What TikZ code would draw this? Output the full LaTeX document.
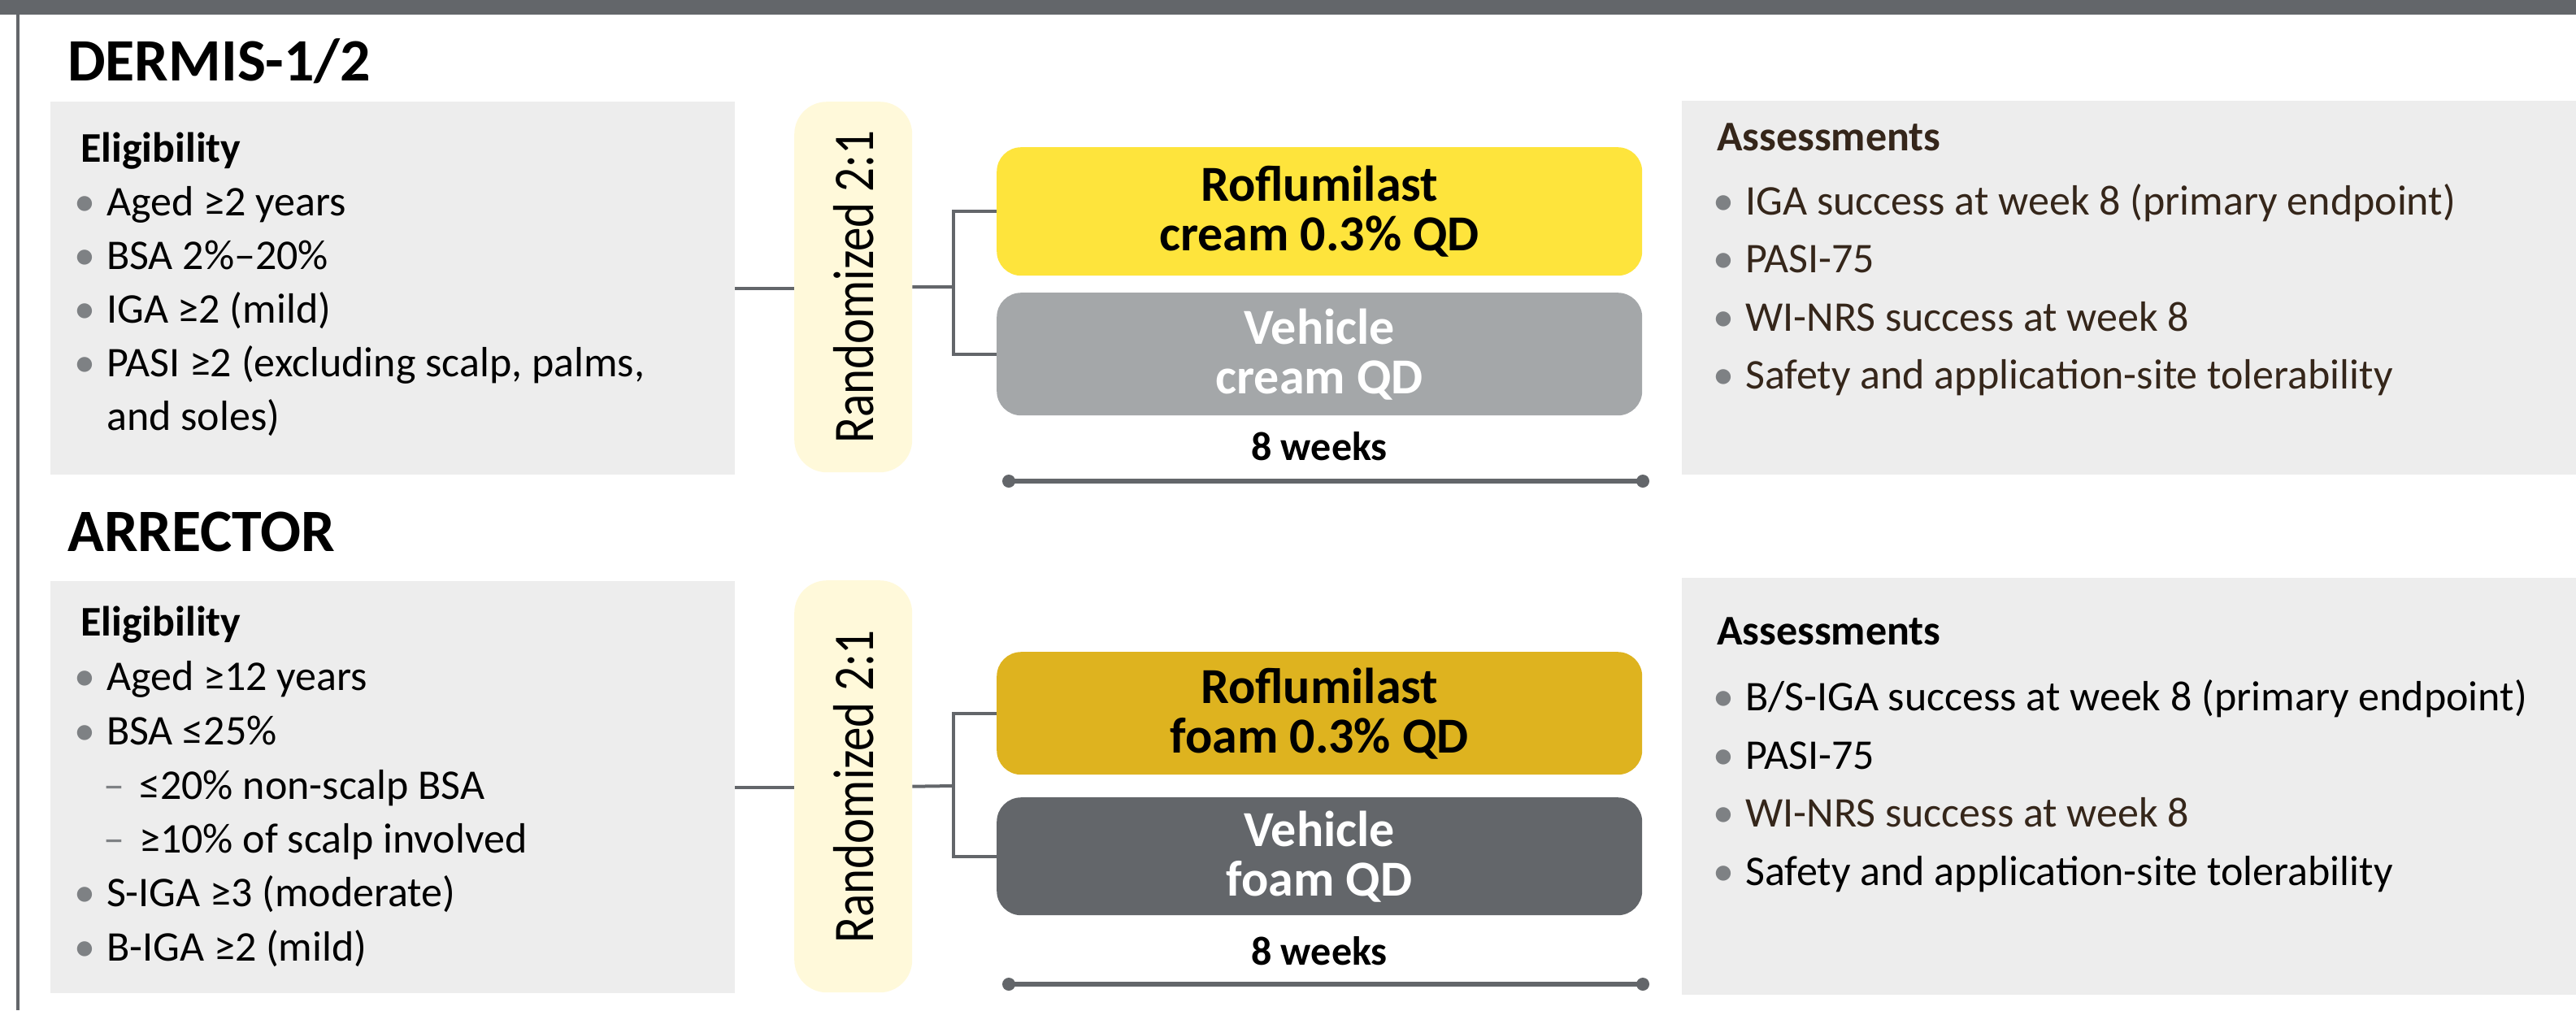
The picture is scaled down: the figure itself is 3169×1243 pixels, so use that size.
\documentclass[tikz,border=0pt]{standalone}
\usepackage{fontspec}
\setmainfont{Carlito}
\usetikzlibrary{calc}
\definecolor{bargray}{HTML}{63666A}
\definecolor{panel}{HTML}{EDEDED}
\definecolor{randbg}{HTML}{FFF9DA}
\definecolor{creamY}{HTML}{FEE43C}
\definecolor{foamY}{HTML}{DEB31F}
\definecolor{vehcream}{HTML}{A4A7A9}
\definecolor{vehfoam}{HTML}{63666A}
\definecolor{bulgray}{HTML}{7E8184}
\definecolor{brownT}{HTML}{35261A}
\newcommand\bodyfs{\fontsize{52pt}{62pt}\selectfont}
\newcommand\bul{\llap{\textcolor{bulgray}{\textbullet}\hspace{14pt}}}
\newcommand\subbul{\llap{\textcolor{bulgray}{–}\hspace{18pt}}}
\newcommand\randtxt{\rotatebox{90}{\scalebox{1}[1.2]{Randomized 2:1}}}
\tikzset{
  panelbox/.style={fill=panel, draw=none, inner sep=0, anchor=north west},
  randbox/.style={fill=randbg, draw=none, inner sep=0, anchor=north west, rounded corners=40pt,
    minimum width=145pt, font=\fontsize{59pt}{62pt}\selectfont},
  arm/.style={draw=none, inner sep=0, anchor=north west, rounded corners=30pt, minimum width=794pt,
    align=center, font=\bfseries\fontsize{62pt}{61pt}\selectfont},
  title/.style={anchor=base west, inner sep=0, font=\bfseries\fontsize{74pt}{80pt}\selectfont},
  head/.style={anchor=base west, inner sep=0, font=\bfseries\bodyfs},
  txt/.style={anchor=base west, inner sep=0, font=\bodyfs},
  weeks/.style={anchor=base, inner sep=0, font=\bfseries\fontsize{50pt}{60pt}\selectfont},
  conn/.style={draw=bargray, line width=4pt},
  tline/.style={draw=bargray, line width=6pt},
}
\begin{document}
\begin{tikzpicture}[x=1pt,y=-1pt]
\useasboundingbox (0,0) rectangle (3169,1243);
\fill[white] (0,0) rectangle (3169,1243);
% frame
\fill[bargray] (0,0) rectangle (3169,18);
\fill[bargray] (20,0) rectangle (24,1243);

% ===== DERMIS-1/2 =====
\node[title] (t1) at (83,99) {DERMIS-1/2};
\node[panelbox, minimum width=842pt, minimum height=459pt] (elig1) at (62,125) {};
\node[head] (e1h) at (99,199) {Eligibility};
\node[txt] (e1a) at (131,265) {\bul Aged ≥2 years};
\node[txt] (e1b) at (131,331) {\bul BSA 2\%–20\%};
\node[txt] (e1c) at (131,397) {\bul IGA ≥2 (mild)};
\node[txt] (e1d) at (131,463) {\bul PASI ≥2 (excluding scalp, palms,};
\node[txt] (e1e) at (131,529) {and soles)};

\node[randbox, minimum height=456pt] (rand1) at (977,125) {\randtxt};
\node[arm, fill=creamY, minimum height=158pt] (rofl1) at (1226,181) {Roflumilast\\cream 0.3\% QD};
\node[arm, fill=vehcream, text=white, minimum height=151pt] (veh1) at (1226,360) {Vehicle\\cream QD};
\node[weeks] (w1) at (1623,566) {8 weeks};
\coordinate (t1a) at (1241,592);
\coordinate (t1b) at (2021,592);
\draw[tline] (t1a) -- (t1b);
\fill[bargray] (t1a) circle (8pt);
\fill[bargray] (t1b) circle (8pt);

\draw[conn] (elig1.east) -- (elig1.east -| rand1.west);
\coordinate (j1) at (1173,353);
\draw[conn] (rand1.east) -- (j1);
\draw[conn] (rofl1.west) -- (rofl1.west -| j1) -- (veh1.west -| j1) -- (veh1.west);

\node[panelbox, minimum width=1100pt, minimum height=460pt] (ass1) at (2069,124) {};
\node[head, text=brownT] (a1h) at (2112,185) {Assessments};
\node[txt, text=brownT] (a1a) at (2147,264) {\bul IGA success at week 8 (primary endpoint)};
\node[txt, text=brownT] (a1b) at (2147,335) {\bul PASI-75};
\node[txt, text=brownT] (a1c) at (2147,407) {\bul WI-NRS success at week 8};
\node[txt, text=brownT] (a1d) at (2147,478) {\bul Safety and application-site tolerability};

% ===== ARRECTOR =====
\node[title] (t2) at (83,678) {ARRECTOR};
\node[panelbox, minimum width=842pt, minimum height=507pt] (elig2) at (62,715) {};
\node[head] (e2h) at (99,782) {Eligibility};
\node[txt] (e2a) at (131,849) {\bul Aged ≥12 years};
\node[txt] (e2b) at (131,916) {\bul BSA ≤25\%};
\node[txt] (e2c) at (171,983) {\subbul ≤20\% non-scalp BSA};
\node[txt] (e2d) at (171,1049) {\subbul ≥10\% of scalp involved};
\node[txt] (e2e) at (131,1115) {\bul S-IGA ≥3 (moderate)};
\node[txt] (e2f) at (131,1182) {\bul B-IGA ≥2 (mild)};

\node[randbox, minimum height=507pt] (rand2) at (977,714) {\randtxt};
\node[arm, fill=foamY, minimum height=151pt] (rofl2) at (1226,802) {Roflumilast\\foam 0.3\% QD};
\node[arm, fill=vehfoam, text=white, minimum height=145pt] (veh2) at (1226,981) {Vehicle\\foam QD};
\node[weeks] (w2) at (1623,1187) {8 weeks};
\coordinate (t2a) at (1241,1211);
\coordinate (t2b) at (2021,1211);
\draw[tline] (t2a) -- (t2b);
\fill[bargray] (t2a) circle (8pt);
\fill[bargray] (t2b) circle (8pt);

\draw[conn] (elig2.east) -- (elig2.east -| rand2.west);
\coordinate (j2) at (1173,967);
\draw[conn] (rand2.east) -- (j2);
\draw[conn] (rofl2.west) -- (rofl2.west -| j2) -- (veh2.west -| j2) -- (veh2.west);

\node[panelbox, minimum width=1100pt, minimum height=513pt] (ass2) at (2069,711) {};
\node[head] (a2h) at (2112,793) {Assessments};
\node[txt] (a2a) at (2147,874) {\bul B/S-IGA success at week 8 (primary endpoint)};
\node[txt] (a2b) at (2147,946) {\bul PASI-75};
\node[txt, text=brownT] (a2c) at (2147,1017) {\bul WI-NRS success at week 8};
\node[txt] (a2d) at (2147,1089) {\bul Safety and application-site tolerability};
\end{tikzpicture}
\end{document}
